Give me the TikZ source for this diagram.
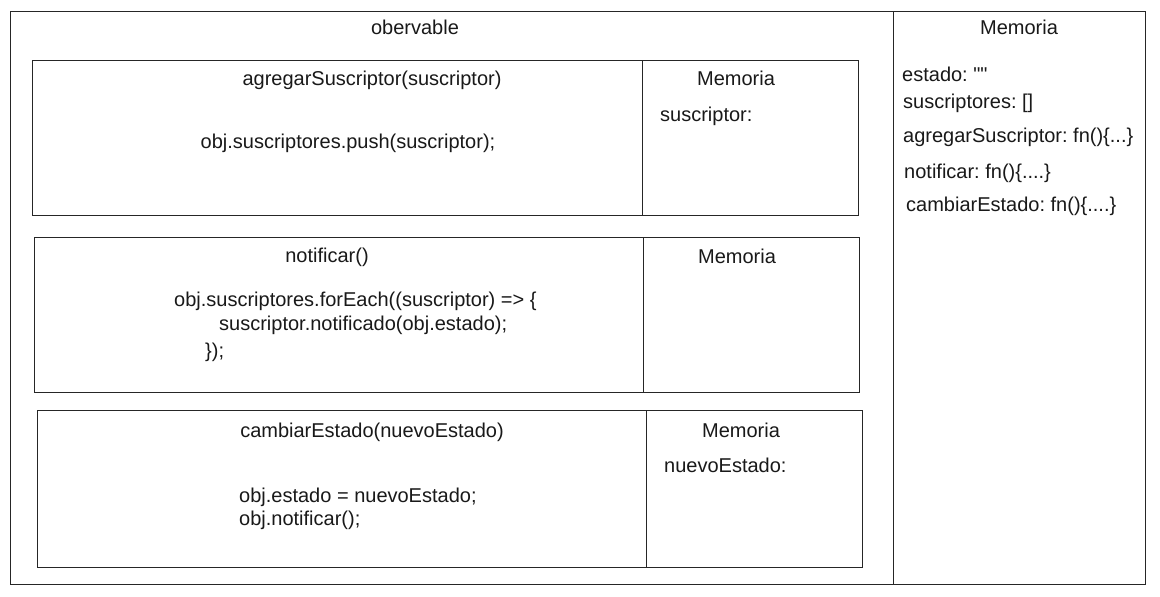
\documentclass[tikz,border=0pt]{standalone}
\usepackage{fontspec}
\setmainfont{Liberation Sans}[Ligatures=TeXOff]
\frenchspacing
\begin{document}
\begin{tikzpicture}[x=1pt,y=-1pt,
  frame/.style={draw=black!85,line width=1.1pt},
  txt/.style={inner sep=0pt,font=\fontsize{20}{24}\selectfont,text=black!90},
  lt/.style={txt,anchor=west}]
\useasboundingbox (0,0) rectangle (1160,597);
\fill[white] (0,0) rectangle (1160,597);
% outer frames
\node[frame,inner sep=0pt,minimum width=883pt,minimum height=573pt,anchor=north west] (obs) at (10,11) {};
\node[frame,inner sep=0pt,minimum width=252pt,minimum height=573pt,anchor=north west] (mem) at (893,11) {};
% box 1
\node[frame,inner sep=0pt,minimum width=610pt,minimum height=155pt,anchor=north west] (f1) at (32,60) {};
\node[frame,inner sep=0pt,minimum width=216pt,minimum height=155pt,anchor=north west] (m1) at (642,60) {};
% box 2
\node[frame,inner sep=0pt,minimum width=609pt,minimum height=155pt,anchor=north west] (f2) at (34,237) {};
\node[frame,inner sep=0pt,minimum width=216pt,minimum height=155pt,anchor=north west] (m2) at (643,237) {};
% box 3
\node[frame,inner sep=0pt,minimum width=609pt,minimum height=157pt,anchor=north west] (f3) at (37,410) {};
\node[frame,inner sep=0pt,minimum width=216pt,minimum height=157pt,anchor=north west] (m3) at (646,410) {};
% titles
\node[txt] (tobs) at (415,27) {obervable};
\node[txt] (tmem) at (1019,27) {Memoria};
% right memory
\node[lt] (e1) at (902,74) {estado: ""};
\node[lt] (e2) at (903,103) {suscriptores: []};
\node[lt] (e3) at (903,137) {agregarSuscriptor: fn()\{...\}};
\node[lt] (e4) at (904,173) {notificar: fn()\{....\}};
\node[lt] (e5) at (906,206) {cambiarEstado: fn()\{....\}};
% box 1 text
\node[txt] (t1) at (372,80) {agregarSuscriptor(suscriptor)};
\node[txt] (c1) at (348,143) {obj.suscriptores.push(suscriptor);};
\node[txt] (mt1) at (736,78) {Memoria};
\node[lt] (v1) at (660,116) {suscriptor:};
% box 2 text
\node[txt] (t2) at (327,257) {notificar()};
\node[lt] (c2a) at (174,301) {obj.suscriptores.forEach((suscriptor) => \{};
\node[lt] (c2b) at (219,325) {suscriptor.notificado(obj.estado);};
\node[lt] (c2c) at (205,352) {\});};
\node[txt] (mt2) at (737,256) {Memoria};
% box 3 text
\node[txt] (t3) at (372,432) {cambiarEstado(nuevoEstado)};
\node[lt] (c3a) at (239,497) {obj.estado = nuevoEstado;};
\node[lt] (c3b) at (239,520) {obj.notificar();};
\node[txt] (mt3) at (741,430) {Memoria};
\node[lt] (v3) at (664,465) {nuevoEstado:};
\end{tikzpicture}
\end{document}
